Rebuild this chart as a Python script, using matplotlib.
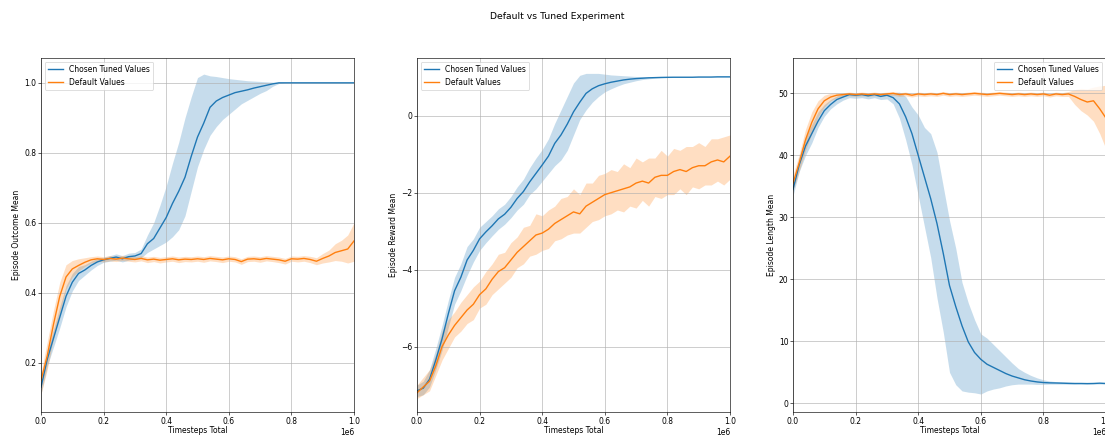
import matplotlib.pyplot as plt

# timesteps (every 20k)
TIMESTEPS = [
    0, 20000, 40000, 60000, 80000, 100000, 120000, 140000, 160000, 180000,
    200000, 220000, 240000, 260000, 280000, 300000, 320000, 340000, 360000, 380000,
    400000, 420000, 440000, 460000, 480000, 500000, 520000, 540000, 560000, 580000,
    600000, 620000, 640000, 660000, 680000, 700000, 720000, 740000, 760000, 780000,
    800000, 820000, 840000, 860000, 880000, 900000, 920000, 940000, 960000, 980000,
    1000000,
]

# Episode Outcome Mean
outcome_tuned = [
    0.13, 0.21, 0.27, 0.33, 0.39, 0.43, 0.455, 0.465, 0.478, 0.488,
    0.494, 0.498, 0.502, 0.497, 0.503, 0.505, 0.512, 0.54, 0.555, 0.585,
    0.615, 0.655, 0.69, 0.73, 0.79, 0.845, 0.885, 0.93, 0.948, 0.958,
    0.965, 0.972, 0.976, 0.98, 0.985, 0.989, 0.993, 0.997, 1.0, 1.0,
    1.0, 1.0, 1.0, 1.0, 1.0, 1.0, 1.0, 1.0, 1.0, 1.0, 1.0,
]
outcome_tuned_lo = [
    0.11, 0.19, 0.245, 0.3, 0.36, 0.405, 0.435, 0.45, 0.465, 0.478,
    0.487, 0.49, 0.493, 0.488, 0.493, 0.495, 0.5, 0.515, 0.525, 0.535,
    0.545, 0.56, 0.58, 0.62, 0.69, 0.76, 0.81, 0.85, 0.875, 0.895,
    0.91, 0.925, 0.94, 0.95, 0.96, 0.97, 0.978, 0.99, 0.998, 1.0,
    1.0, 1.0, 1.0, 1.0, 1.0, 1.0, 1.0, 1.0, 1.0, 1.0, 1.0,
]
outcome_tuned_hi = [
    0.15, 0.23, 0.295, 0.36, 0.42, 0.455, 0.475, 0.48, 0.49, 0.498,
    0.501, 0.506, 0.511, 0.506, 0.513, 0.515, 0.525, 0.565, 0.6, 0.65,
    0.705, 0.77, 0.83, 0.9, 0.96, 1.015, 1.025, 1.02, 1.018, 1.015,
    1.012, 1.01, 1.008, 1.006, 1.005, 1.004, 1.003, 1.002, 1.001, 1.0,
    1.0, 1.0, 1.0, 1.0, 1.0, 1.0, 1.0, 1.0, 1.0, 1.0, 1.0,
]
outcome_default = [
    0.15, 0.22, 0.31, 0.39, 0.445, 0.468, 0.478, 0.487, 0.494, 0.497,
    0.495, 0.498, 0.496, 0.499, 0.497, 0.495, 0.498, 0.494, 0.496, 0.493,
    0.495, 0.497, 0.494, 0.496, 0.495, 0.497, 0.495, 0.498, 0.496, 0.494,
    0.497, 0.495, 0.489, 0.496, 0.497, 0.495, 0.498, 0.496, 0.494, 0.49,
    0.497, 0.496, 0.498, 0.495, 0.49, 0.498, 0.505, 0.515, 0.52, 0.525, 0.548,
]
outcome_default_lo = [
    0.11, 0.18, 0.27, 0.34, 0.41, 0.445, 0.462, 0.475, 0.485, 0.49,
    0.488, 0.491, 0.489, 0.492, 0.49, 0.488, 0.491, 0.486, 0.489, 0.485,
    0.488, 0.49, 0.486, 0.489, 0.488, 0.49, 0.487, 0.491, 0.489, 0.486,
    0.49, 0.488, 0.481, 0.489, 0.49, 0.487, 0.491, 0.489, 0.486, 0.482,
    0.49, 0.488, 0.49, 0.486, 0.48, 0.485, 0.488, 0.492, 0.49, 0.485, 0.49,
]
outcome_default_hi = [
    0.17, 0.26, 0.35, 0.43, 0.48, 0.492, 0.497, 0.5, 0.503, 0.505,
    0.503, 0.506, 0.504, 0.507, 0.505, 0.503, 0.506, 0.502, 0.504, 0.501,
    0.503, 0.505, 0.502, 0.504, 0.503, 0.505, 0.503, 0.506, 0.504, 0.502,
    0.505, 0.503, 0.497, 0.504, 0.505, 0.503, 0.506, 0.504, 0.502, 0.498,
    0.505, 0.504, 0.506, 0.504, 0.5, 0.512, 0.522, 0.54, 0.55, 0.565, 0.6,
]

# Episode Reward Mean
reward_tuned = [
    -7.15, -7.08, -6.85, -6.35, -5.8, -5.15, -4.55, -4.2, -3.75, -3.5,
    -3.2, -3.02, -2.86, -2.68, -2.56, -2.38, -2.15, -1.97, -1.72, -1.5,
    -1.28, -1.05, -0.72, -0.5, -0.22, 0.1, 0.35, 0.58, 0.7, 0.78,
    0.83, 0.87, 0.9, 0.93, 0.95, 0.965, 0.975, 0.985, 0.99, 0.995,
    0.998, 1.0, 1.0, 1.0, 1.0, 1.005, 1.005, 1.005, 1.01, 1.01, 1.01,
]
reward_tuned_lo = [
    -7.3, -7.25, -7.05, -6.6, -6.1, -5.5, -4.9, -4.55, -4.15, -3.8,
    -3.5, -3.3, -3.12, -2.95, -2.82, -2.65, -2.45, -2.3, -2.05, -1.9,
    -1.7, -1.5, -1.3, -1.15, -0.9, -0.5, -0.1, 0.15, 0.35, 0.5,
    0.62, 0.7, 0.77, 0.83, 0.87, 0.91, 0.94, 0.96, 0.975, 0.985,
    0.99, 0.995, 0.995, 0.995, 0.995, 1.0, 1.0, 1.0, 1.005, 1.005, 1.005,
]
reward_tuned_hi = [
    -7.0, -6.9, -6.6, -6.05, -5.45, -4.8, -4.2, -3.85, -3.4, -3.2,
    -2.9, -2.75, -2.6, -2.42, -2.3, -2.1, -1.85, -1.65, -1.35, -1.1,
    -0.88, -0.6, -0.2, 0.15, 0.5, 0.85, 1.05, 1.1, 1.1, 1.1,
    1.08, 1.06, 1.05, 1.04, 1.03, 1.02, 1.015, 1.01, 1.005, 1.005,
    1.005, 1.005, 1.005, 1.005, 1.005, 1.01, 1.01, 1.01, 1.015, 1.015, 1.015,
]
reward_default = [
    -7.2, -7.05, -6.9, -6.5, -6.0, -5.7, -5.45, -5.25, -5.05, -4.9,
    -4.65, -4.5, -4.25, -4.05, -3.95, -3.75, -3.55, -3.4, -3.25, -3.1,
    -3.05, -2.95, -2.8, -2.7, -2.6, -2.5, -2.55, -2.35, -2.25, -2.15,
    -2.05, -2.0, -1.95, -1.9, -1.85, -1.75, -1.7, -1.75, -1.6, -1.55,
    -1.55, -1.45, -1.4, -1.45, -1.35, -1.3, -1.3, -1.2, -1.15, -1.2, -1.05,
]
reward_default_lo = [
    -7.35, -7.25, -7.15, -6.75, -6.35, -6.05, -5.75, -5.6, -5.4, -5.3,
    -5.0, -4.9, -4.65, -4.5, -4.35, -4.2, -3.95, -3.85, -3.65, -3.6,
    -3.5, -3.45, -3.25, -3.2, -3.1, -3.05, -3.05, -2.9, -2.75, -2.7,
    -2.6, -2.55, -2.45, -2.5, -2.35, -2.4, -2.2, -2.35, -2.1, -2.15,
    -2.05, -2.05, -1.9, -2.05, -1.85, -1.9, -1.8, -1.8, -1.7, -1.8, -1.65,
]
reward_default_hi = [
    -7.0, -6.8, -6.6, -6.2, -5.6, -5.3, -5.1, -4.85, -4.65, -4.45,
    -4.3, -4.05, -3.85, -3.6, -3.55, -3.3, -3.15, -2.9, -2.85, -2.55,
    -2.6, -2.45, -2.35, -2.15, -2.1, -1.9, -2.05, -1.75, -1.75, -1.55,
    -1.5, -1.4, -1.45, -1.25, -1.35, -1.1, -1.2, -1.1, -1.1, -0.9,
    -1.05, -0.85, -0.9, -0.8, -0.8, -0.7, -0.8, -0.6, -0.6, -0.55, -0.5,
]

# Episode Length Mean
length_tuned = [
    34.5, 38.5, 41.5, 43.5, 45.5, 47.2, 48.2, 49.0, 49.4, 49.8,
    49.7, 49.8, 49.6, 49.8, 49.5, 49.7, 49.3, 48.3, 46.2, 43.5,
    40.0, 36.5, 33.0, 29.0, 24.2, 19.0, 15.6, 12.5, 9.9, 8.2,
    7.1, 6.3, 5.8, 5.3, 4.8, 4.4, 4.1, 3.8, 3.6, 3.45,
    3.35, 3.3, 3.28, 3.25, 3.22, 3.2, 3.2, 3.18, 3.2, 3.25, 3.2,
]
length_tuned_lo = [
    33.5, 37.4, 40.0, 42.0, 44.5, 46.3, 47.5, 48.3, 48.9, 49.3,
    49.2, 49.3, 49.1, 49.3, 49.0, 49.1, 48.3, 46.0, 42.5, 38.5,
    33.5, 28.5, 23.5, 17.0, 11.5, 5.0, 3.0, 2.0, 1.8, 1.7,
    1.5, 2.0, 2.3, 2.5, 2.8, 3.0, 3.1, 3.1, 3.1, 3.05,
    3.05, 3.1, 3.1, 3.1, 3.08, 3.08, 3.1, 3.08, 3.1, 3.12, 3.1,
]
length_tuned_hi = [
    35.5, 39.8, 43.0, 45.0, 47.0, 48.2, 49.0, 49.6, 49.9, 50.1,
    50.0, 50.1, 50.0, 50.1, 50.0, 50.1, 50.1, 50.2, 49.5, 47.8,
    46.5, 44.5, 43.5, 40.5, 35.0, 29.5, 25.0, 19.5, 16.2, 13.5,
    11.2, 10.5, 9.5, 8.5, 7.5, 6.5, 5.6, 5.0, 4.5, 4.1,
    3.8, 3.6, 3.5, 3.45, 3.4, 3.35, 3.3, 3.28, 3.3, 3.35, 3.3,
]
length_default = [
    35.5, 38.8, 42.5, 45.3, 47.5, 48.8, 49.4, 49.7, 49.8, 49.9,
    49.8, 49.9, 49.8, 49.9, 49.8, 49.9, 50.0, 49.8, 49.9, 49.7,
    49.9, 49.8, 49.9, 49.8, 50.0, 49.8, 49.9, 49.8, 49.9, 50.0,
    49.9, 49.8, 49.9, 50.0, 49.9, 49.8, 49.9, 49.8, 49.9, 49.8,
    49.9, 49.7, 49.9, 49.8, 49.9, 49.5, 49.0, 48.6, 48.8, 47.5, 46.0,
]
length_default_lo = [
    34.3, 37.5, 40.8, 43.5, 46.2, 47.8, 48.8, 49.3, 49.5, 49.6,
    49.5, 49.6, 49.5, 49.6, 49.5, 49.6, 49.7, 49.5, 49.6, 49.4,
    49.6, 49.5, 49.6, 49.5, 49.7, 49.5, 49.6, 49.5, 49.6, 49.7,
    49.6, 49.5, 49.6, 49.7, 49.6, 49.5, 49.6, 49.5, 49.6, 49.5,
    49.6, 49.4, 49.6, 49.5, 49.5, 48.2, 47.2, 46.5, 45.5, 43.5, 41.0,
]
length_default_hi = [
    36.8, 40.2, 44.2, 47.0, 48.8, 49.7, 50.0, 50.1, 50.1, 50.2,
    50.1, 50.2, 50.1, 50.2, 50.1, 50.2, 50.3, 50.1, 50.2, 50.0,
    50.2, 50.1, 50.2, 50.1, 50.3, 50.1, 50.2, 50.1, 50.2, 50.3,
    50.2, 50.1, 50.2, 50.3, 50.2, 50.1, 50.2, 50.1, 50.2, 50.1,
    50.2, 50.0, 50.2, 50.1, 50.3, 50.6, 50.8, 50.7, 51.0, 51.2, 51.3,
]

PANELS = [
    ("Episode Outcome Mean", outcome_tuned, outcome_tuned_lo, outcome_tuned_hi,
     outcome_default, outcome_default_lo, outcome_default_hi, (0.059, 1.071), "upper left"),
    ("Episode Reward Mean", reward_tuned, reward_tuned_lo, reward_tuned_hi,
     reward_default, reward_default_lo, reward_default_hi, (-7.7, 1.5), "upper left"),
    ("Episode Length Mean", length_tuned, length_tuned_lo, length_tuned_hi,
     length_default, length_default_lo, length_default_hi, (-1.4, 55.7), "upper right"),
]

DPI = 55.25
fig = plt.figure(figsize=(1105 / DPI, 437 / DPI), dpi=DPI)

# axes placed by hand, the last one runs off the right edge like the screenshot
lefts = [41 / 1105, 417 / 1105, 793 / 1105]
width = 313 / 1105
bottom = 25 / 437
height = 354 / 437

for left, panel in zip(lefts, PANELS):
    ylabel, t_mean, t_lo, t_hi, d_mean, d_lo, d_hi, ylim, legloc = panel
    ax = fig.add_axes([left, bottom, width, height])

    ax.plot(TIMESTEPS, t_mean, color="tab:blue", linewidth=1.8, label="Chosen Tuned Values")
    ax.fill_between(TIMESTEPS, t_lo, t_hi, color="tab:blue", alpha=0.25, linewidth=0)
    ax.plot(TIMESTEPS, d_mean, color="tab:orange", linewidth=1.8, label="Default Values")
    ax.fill_between(TIMESTEPS, d_lo, d_hi, color="tab:orange", alpha=0.25, linewidth=0)

    ax.set_xlim(0, 1e6)
    ax.set_ylim(*ylim)
    ax.tick_params(pad=2.5)
    ax.set_xlabel("Timesteps Total", labelpad=1)
    ax.set_ylabel(ylabel)
    ax.grid(True)
    ax.legend(loc=legloc)

fig.suptitle("Default vs Tuned Experiment", x=557 / 1105, y=1 - 12 / 437)

fig.savefig("out.png", dpi=DPI)
